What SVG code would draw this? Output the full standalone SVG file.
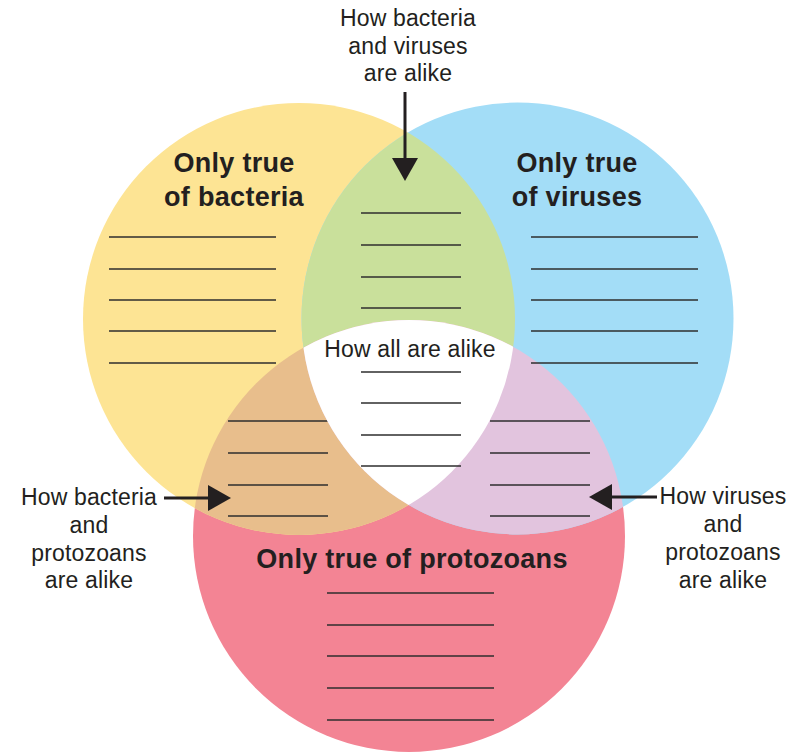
<svg xmlns="http://www.w3.org/2000/svg" width="799" height="753" viewBox="0 0 799 753">
  <style>
    .lbl { font-family: "Liberation Sans", Arial, sans-serif; font-size: 23px; letter-spacing: 0.15px; fill: #231f20; text-anchor: middle; }
    .ttl { font-family: "Liberation Sans", Arial, sans-serif; font-size: 27px; letter-spacing: 0.3px; font-weight: bold; fill: #231f20; text-anchor: middle; }
    .blank { stroke: #2e2e2e; stroke-width: 1.4; fill: none; }
    .conn { stroke: #231f20; stroke-width: 3; fill: none; }
  </style>
  <defs>
    <clipPath id="cY"><circle cx="299" cy="319" r="216"/></clipPath>
    <clipPath id="cB"><circle cx="517.5" cy="318.5" r="216"/></clipPath>
    <clipPath id="cR"><circle cx="409" cy="536" r="216"/></clipPath>
    <marker id="ah" viewBox="0 0 23 26" refX="0" refY="13" markerWidth="23" markerHeight="26" markerUnits="userSpaceOnUse" orient="auto">
      <path d="M0,0 L23,13 L0,26 Z" fill="#231f20"/>
    </marker>
  </defs>
  <rect width="799" height="753" fill="#ffffff"/>

  <g id="circles">
    <circle cx="409" cy="536" r="216" fill="#f38494"/>
    <circle cx="299" cy="319" r="216" fill="#fde494"/>
    <circle cx="517.5" cy="318.5" r="216" fill="#a3ddf7"/>
  </g>

  <g id="bacteria-viruses">
    <circle cx="517.5" cy="318.5" r="216" fill="#c9e09b" clip-path="url(#cY)"/>
    <text class="lbl" x="408" y="26">How bacteria</text>
    <text class="lbl" x="408" y="54">and viruses</text>
    <text class="lbl" x="408" y="81">are alike</text>
    <line class="blank" x1="361" y1="213" x2="461" y2="213"/>
    <line class="blank" x1="361" y1="245" x2="461" y2="245"/>
    <line class="blank" x1="361" y1="277" x2="461" y2="277"/>
    <line class="blank" x1="361" y1="308" x2="461" y2="308"/>
  </g>

  <g id="bacteria-protozoans">
    <circle cx="409" cy="536" r="216" fill="#e8be8c" clip-path="url(#cY)"/>
    <text class="lbl" x="89" y="505">How bacteria</text>
    <text class="lbl" x="89" y="533">and</text>
    <text class="lbl" x="89" y="561">protozoans</text>
    <text class="lbl" x="89" y="588">are alike</text>
    <line class="blank" x1="228" y1="421" x2="328" y2="421"/>
    <line class="blank" x1="228" y1="453" x2="328" y2="453"/>
    <line class="blank" x1="228" y1="485" x2="328" y2="485"/>
    <line class="blank" x1="228" y1="516" x2="328" y2="516"/>
  </g>

  <g id="viruses-protozoans">
    <circle cx="409" cy="536" r="216" fill="#e2c4de" clip-path="url(#cB)"/>
    <text class="lbl" x="723" y="504">How viruses</text>
    <text class="lbl" x="723" y="532">and</text>
    <text class="lbl" x="723" y="560">protozoans</text>
    <text class="lbl" x="723" y="588">are alike</text>
    <line class="blank" x1="490" y1="421" x2="590" y2="421"/>
    <line class="blank" x1="490" y1="453" x2="590" y2="453"/>
    <line class="blank" x1="490" y1="485" x2="590" y2="485"/>
    <line class="blank" x1="490" y1="516" x2="590" y2="516"/>
  </g>

  <g id="all">
    <g clip-path="url(#cY)">
      <circle cx="409" cy="536" r="216" fill="#ffffff" clip-path="url(#cB)"/>
    </g>
    <text class="lbl" x="410" y="357">How all are alike</text>
    <line class="blank" x1="361" y1="372" x2="461" y2="372"/>
    <line class="blank" x1="361" y1="403" x2="461" y2="403"/>
    <line class="blank" x1="361" y1="435" x2="461" y2="435"/>
    <line class="blank" x1="361" y1="466" x2="461" y2="466"/>
  </g>

  <g id="bacteria">
    <text class="ttl" x="234" y="172">Only true</text>
    <text class="ttl" x="234" y="206">of bacteria</text>
    <line class="blank" x1="109" y1="237" x2="276" y2="237"/>
    <line class="blank" x1="109" y1="269" x2="276" y2="269"/>
    <line class="blank" x1="109" y1="300" x2="276" y2="300"/>
    <line class="blank" x1="109" y1="331" x2="276" y2="331"/>
    <line class="blank" x1="109" y1="363" x2="276" y2="363"/>
  </g>

  <g id="viruses">
    <text class="ttl" x="577" y="172">Only true</text>
    <text class="ttl" x="577" y="206">of viruses</text>
    <line class="blank" x1="531" y1="237" x2="698" y2="237"/>
    <line class="blank" x1="531" y1="269" x2="698" y2="269"/>
    <line class="blank" x1="531" y1="300" x2="698" y2="300"/>
    <line class="blank" x1="531" y1="331" x2="698" y2="331"/>
    <line class="blank" x1="531" y1="363" x2="698" y2="363"/>
  </g>

  <g id="protozoans">
    <text class="ttl" x="412" y="568">Only true of protozoans</text>
    <line class="blank" x1="327" y1="593" x2="494" y2="593"/>
    <line class="blank" x1="327" y1="625" x2="494" y2="625"/>
    <line class="blank" x1="327" y1="656" x2="494" y2="656"/>
    <line class="blank" x1="327" y1="688" x2="494" y2="688"/>
    <line class="blank" x1="327" y1="720" x2="494" y2="720"/>
  </g>

  <g id="connectors">
    <line class="conn" x1="405" y1="92" x2="405" y2="158" marker-end="url(#ah)"/>
    <line class="conn" x1="164" y1="498" x2="208" y2="498" marker-end="url(#ah)"/>
    <line class="conn" x1="657" y1="497" x2="612" y2="497" marker-end="url(#ah)"/>
  </g>
</svg>
